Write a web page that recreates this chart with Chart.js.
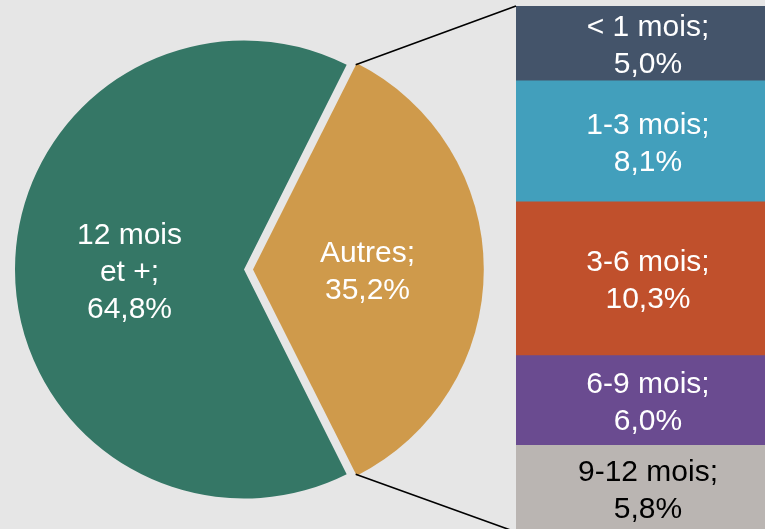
<!DOCTYPE html>
<html lang="fr">
<head>
    <meta charset="UTF-8">
    <title>Répartition par ancienneté</title>
    <style>
        html, body {
            margin: 0;
            padding: 0;
            width: 765px;
            height: 529px;
            overflow: hidden;
            background: #e6e6e6;
        }
        canvas {
            position: absolute;
            left: 0;
            top: 0;
        }
    </style>
</head>
<body>
    <canvas id="barChart" width="800" height="545"></canvas>
    <canvas id="pieChart" width="800" height="545"></canvas>
    <script src="https://cdn.jsdelivr.net/npm/chart.js"></script>
    <script>
        // Pie: main split
        const pieLabels = [['Autres'], ['12 mois', 'et +']];
        const pieValues = [35.2, 64.8];
        const pieColors = ['#cf9a4b', '#357766'];

        // Bar: detail of "Autres" (top to bottom)
        const barLabels = ['< 1 mois', '1-3 mois', '3-6 mois', '6-9 mois', '9-12 mois'];
        const barValues = [5.0, 8.1, 10.3, 6.0, 5.8];
        const barColors = ['#44546a', '#429fbc', '#c0502c', '#6a4b90', '#bab5b2'];
        const barTextColors = ['#ffffff', '#ffffff', '#ffffff', '#ffffff', '#000000'];

        const FONT = '30px "Liberation Sans", Arial, sans-serif';
        const LINE_H = 37;
        const EXPLODE = 9; // px the "Autres" slice is pulled out

        function pct(v) {
            return v.toFixed(1).replace('.', ',') + '%';
        }

        function drawLines(ctx, lines, x, y, color) {
            ctx.save();
            ctx.font = FONT;
            ctx.fillStyle = color;
            ctx.textAlign = 'center';
            ctx.textBaseline = 'middle';
            const top = y + 3 - (lines.length - 1) * LINE_H / 2;
            lines.forEach((t, i) => ctx.fillText(t, x, top + i * LINE_H));
            ctx.restore();
        }

        // stacked bar: first dataset sits at the bottom, so reverse
        const order = barLabels.map((_, i) => i).reverse();
        const total = barValues.reduce((a, b) => a + b, 0);

        const barLabelPlugin = {
            id: 'barLabels',
            afterDatasetsDraw(chart) {
                const ctx = chart.ctx;
                chart.data.datasets.forEach((ds, di) => {
                    const el = chart.getDatasetMeta(di).data[0];
                    const k = ds.srcIndex;
                    drawLines(ctx, [barLabels[k] + ';', pct(barValues[k])],
                        el.x, (el.y + el.base) / 2, barTextColors[k]);
                });
            }
        };

        const barChart = new Chart(document.getElementById('barChart'), {
            type: 'bar',
            data: {
                labels: ['Autres'],
                datasets: order.map(i => ({
                    label: barLabels[i],
                    data: [barValues[i]],
                    backgroundColor: barColors[i],
                    borderWidth: 0,
                    barPercentage: 1,
                    categoryPercentage: 1,
                    srcIndex: i
                }))
            },
            options: {
                responsive: false,
                animation: false,
                layout: { padding: { left: 516, right: 20, top: 6, bottom: 13 } },
                plugins: { legend: { display: false }, tooltip: { enabled: false } },
                scales: {
                    x: { stacked: true, display: false },
                    y: { stacked: true, display: false, min: 0, max: total }
                }
            },
            plugins: [barLabelPlugin]
        });

        const pieExtras = {
            id: 'pieExtras',
            afterDatasetsDraw(chart) {
                const ctx = chart.ctx;
                const arcs = chart.getDatasetMeta(0).data;
                arcs.forEach((arc, i) => {
                    const mid = (arc.startAngle + arc.endAngle) / 2;
                    const d = arc.options.offset / 4 + arc.outerRadius / 2;
                    const lines = pieLabels[i].slice();
                    lines[lines.length - 1] += ';';
                    lines.push(pct(pieValues[i]));
                    drawLines(ctx, lines, arc.x + Math.cos(mid) * d, arc.y + Math.sin(mid) * d, '#ffffff');
                });

                // connector lines from the "Autres" slice to the bar
                const a = arcs[0];
                const off = a.options.offset / 4;
                const mid = (a.startAngle + a.endAngle) / 2;
                const ox = a.x + Math.cos(mid) * off;
                const oy = a.y + Math.sin(mid) * off;
                const R = a.outerRadius;
                const bars = barChart.data.datasets.map((_, di) => barChart.getDatasetMeta(di).data[0]);
                const topBar = bars[bars.length - 1];
                const botBar = bars[0];
                const bx = topBar.x - topBar.width / 2;
                ctx.save();
                ctx.strokeStyle = '#000000';
                ctx.lineWidth = 1.6;
                ctx.beginPath();
                ctx.moveTo(ox + Math.cos(a.startAngle) * R, oy + Math.sin(a.startAngle) * R);
                ctx.lineTo(bx, topBar.y);
                ctx.moveTo(ox + Math.cos(a.endAngle) * R, oy + Math.sin(a.endAngle) * R);
                ctx.lineTo(bx, botBar.base);
                ctx.stroke();
                ctx.restore();
            }
        };

        new Chart(document.getElementById('pieChart'), {
            type: 'pie',
            data: {
                labels: pieLabels.map(l => l.join(' ')),
                datasets: [{
                    data: pieValues,
                    backgroundColor: pieColors,
                    borderWidth: 0,
                    // Chart.js v4 draws a quarter of the offset value
                    offset: [EXPLODE * 4, 0]
                }]
            },
            options: {
                responsive: false,
                animation: false,
                radius: 229,
                rotation: 90 - pieValues[0] * 3.6 / 2,
                layout: { padding: { left: 10, right: 322, top: 35, bottom: 41 } },
                plugins: { legend: { display: false }, tooltip: { enabled: false } }
            },
            plugins: [pieExtras]
        });
    </script>
</body>
</html>
